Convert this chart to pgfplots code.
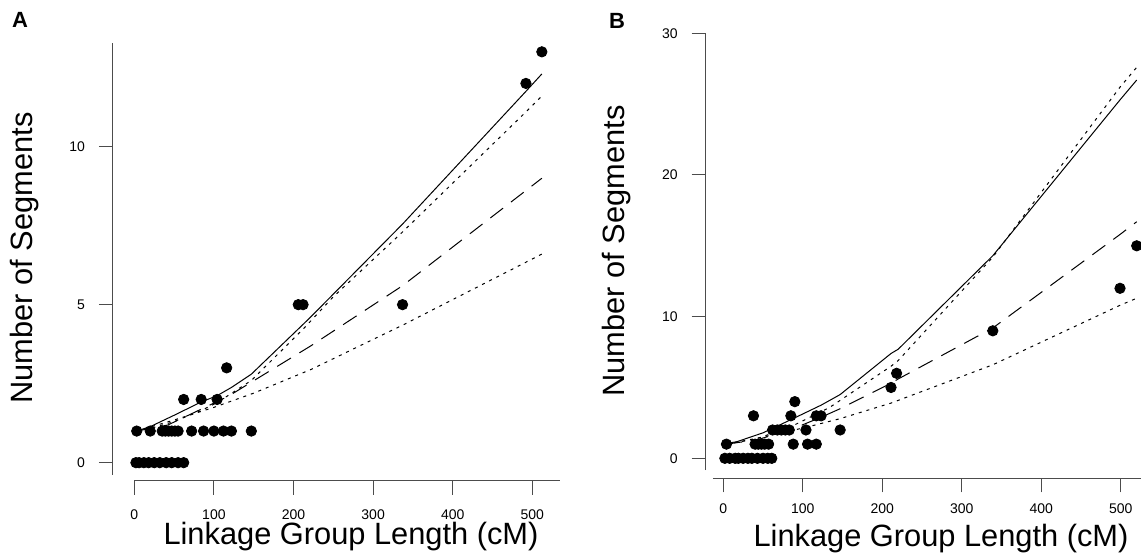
\documentclass[border=0pt]{standalone}
\usepackage{fontspec}
\setmainfont{Liberation Sans}
\usepackage{pgfplots}
\pgfplotsset{compat=1.18}

\pgfplotsset{
  panel/.style={
    scale only axis, anchor=south west, clip=false,
    axis x line*=bottom, axis y line*=left,
    axis line style={draw=none},
    tick align=outside, major tick length=7pt,
    tick style={black!70, line width=0.5pt},
    tick label style={font=\fontsize{7}{8}\selectfont},
    yticklabel style={xshift=-3.5pt},
    /pgf/number format/assume math mode=true,
    xtick={0,100,200,300,400,500},
    minor tick num=0,
  },
  pts/.style={only marks, mark=*, mark size=2.6pt, black},
  fit/.style={black, line width=0.5pt, mark=none},
  fitdot/.style={black, line width=0.5pt, mark=none, dash pattern=on 1.5pt off 2.5pt},
  fitdash/.style={black, line width=0.5pt, mark=none, dash pattern=on 8pt off 5pt},
}
\newcommand{\lab}{\fontsize{15.4}{17}\selectfont}

\begin{document}
\begin{tikzpicture}[x=1pt,y=1pt]
\path[use as bounding box] (0,0) rectangle (570.5,277.5);

% ---------------- panel A ----------------
\begin{axis}[panel, at={(56.5pt,37pt)}, width=223.5pt, height=219pt,
    xmin=-26.8, xmax=534.8, ymin=-0.58, ymax=13.28,
    xticklabel style={yshift=-4pt},
    ytick={0,5,10}]
\draw[black!70, line width=0.5pt] (axis cs:-26.8,-0.39) -- (axis cs:-26.8,13.28);
\draw[black!70, line width=0.5pt] (axis cs:0,-0.58) -- (axis cs:534.8,-0.58);

\addplot[fit] coordinates {
  (3,1.0) (20,1.14) (50,1.5) (84,1.92) (104,2.12) (122,2.38) (147,2.8)
  (213,4.4) (222,4.62) (337,7.55) (492,11.75) (512,12.3)};
\addplot[fitdot] coordinates {
  (3,1.0) (20,1.08) (50,1.3) (84,1.65) (104,1.9) (147,2.6) (213,4.25)
  (250,5.25) (337,7.3) (492,11.1) (512,11.6)};
\addplot[fitdash] coordinates {
  (3,1.0) (42,1.19) (118,2.1) (222,3.7) (337,5.6) (512,9.0)};
\addplot[fitdot] coordinates {
  (3,1.0) (50,1.35) (100,1.75) (150,2.2) (222,2.95) (337,4.35) (512,6.6)};

\addplot[pts] coordinates {
  (2,0) (6,0) (12,0) (18,0) (25,0) (32,0) (40,0) (47,0) (55,0) (62,0)
  (3,1) (20,1) (35,1) (39,1) (43,1) (47,1) (51,1) (55,1)
  (72,1) (87,1) (100,1) (112,1) (122,1) (147,1)
  (62,2) (84,2) (104,2) (116,3)
  (206,5) (212,5) (337,5) (492,12) (512,13)};
\end{axis}

% ---------------- panel B ----------------
\begin{axis}[panel, at={(352.85pt,38.35pt)}, width=217.65pt, height=222.5pt,
    xmin=-22.1, xmax=525.4, ymin=-1.41, ymax=30,
    xticklabel style={yshift=-2pt},
    ytick={0,10,20,30}]
\draw[black!70, line width=0.5pt] (axis cs:-22.1,-0.83) -- (axis cs:-22.1,30);
\draw[black!70, line width=0.5pt] (axis cs:-13,-1.41) -- (axis cs:525.4,-1.41);

\addplot[fit] coordinates {
  (4,1.05) (17,1.17) (50,1.8) (84,2.7) (123,3.75) (147,4.5) (211,7.4) (220,7.7)
  (339,14.3) (499,25.3) (520,26.7)};
\addplot[fitdot] coordinates {
  (4,1.0) (40,1.35) (84,2.2) (134,3.6) (211,6.5) (220,6.9)
  (339,14.2) (499,26.2) (520,27.6)};
\addplot[fitdash] coordinates {
  (4,1.0) (42,1.3) (84,2.0) (123,2.9) (147,3.5) (211,5.3) (220,5.6)
  (339,9.2) (499,15.8) (520,16.7)};
\addplot[fitdot] coordinates {
  (4,1.0) (50,1.5) (105,2.2) (147,2.8) (211,3.9) (339,6.6) (499,10.8) (520,11.3)};

\addplot[pts] coordinates {
  (2,0) (8,0) (15,0) (19,0) (25,0) (31,0) (36,0) (43,0) (50,0) (56,0) (61,0)
  (4,1) (40,1) (44,1) (48,1) (52,1) (57,1) (88,1) (106,1) (117,1)
  (62,2) (68,2) (73,2) (78,2) (83,2) (104,2) (147,2)
  (38,3) (85,3) (117,3) (123,3) (90,4)
  (211,5) (218,6) (339,9) (499,12) (520,15)};
\end{axis}

% ---------------- labels ----------------
\node[font=\bfseries\fontsize{11}{13}\selectfont] at (10,267.5) {A};
\node[font=\bfseries\fontsize{11}{13}\selectfont] at (308.5,267) {B};
\node[font=\lab, rotate=90] at (12.5,148.5) {Number of Segments};
\node[font=\lab, rotate=90] at (308.5,152) {Number of Segments};
\node[font=\lab, anchor=base, inner sep=0pt] at (175.5,5) {Linkage Group Length (cM)};
\node[font=\lab, anchor=base, inner sep=0pt] at (470.5,4.2) {Linkage Group Length (cM)};
\end{tikzpicture}
\end{document}
